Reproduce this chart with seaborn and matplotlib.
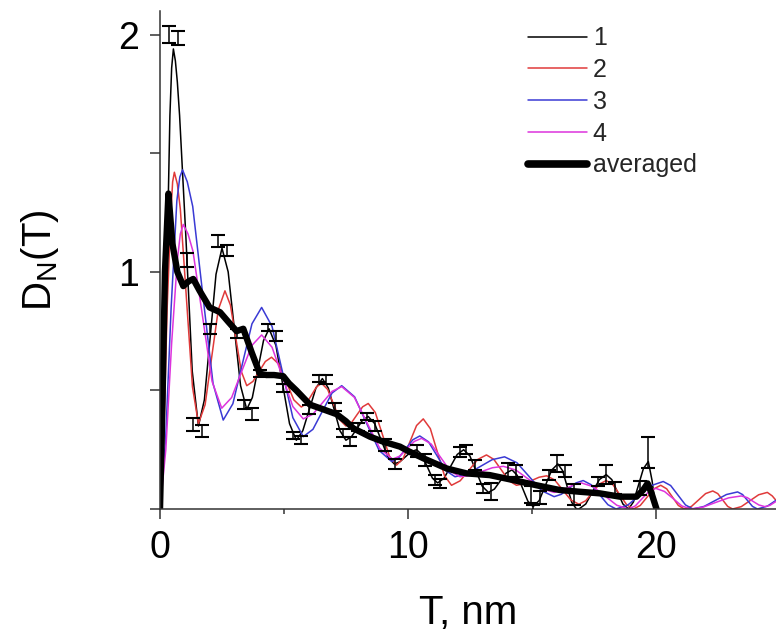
import matplotlib
matplotlib.use("Agg")
import matplotlib.pyplot as plt
import seaborn as sns
import pandas as pd
from matplotlib.ticker import FixedLocator

# ---------------- data ----------------
t1 = [0.0, 0.14, 0.27, 0.40, 0.47, 0.54, 0.62, 0.70, 0.79, 1.045, 1.30, 1.55, 1.79, 2.025, 2.26, 2.5,
      2.75, 3.0, 3.25, 3.5, 3.725, 3.95, 4.175, 4.4, 4.675, 4.95, 5.225, 5.5,
      5.76, 6.025, 6.29, 6.55, 6.79, 7.025, 7.26, 7.5, 7.725, 7.95, 8.175, 8.4,
      8.66, 8.925, 9.19, 9.45, 9.675, 9.9, 10.125, 10.35, 10.56, 10.775, 10.99, 11.2,
      11.46, 11.725, 11.99, 12.25, 12.5, 12.75, 13.0, 13.25, 13.49, 13.725, 13.96, 14.2,
      14.41, 14.625, 14.84, 15.05, 15.3, 15.55, 15.8, 16.05, 16.24, 16.425, 16.61, 16.8,
      16.9, 17.175, 17.45, 17.725, 18.0, 18.225, 18.45, 18.675, 18.9, 19.1, 19.3, 19.5,
      19.7, 19.85, 20.0]
d1 = [0.0, 0.28, 0.97, 1.66, 1.86, 1.94, 1.89, 1.80, 1.66, 1.145, 0.582, 0.35, 0.46, 0.725, 0.99, 1.1,
      1.0, 0.76, 0.52, 0.42, 0.47, 0.59, 0.71, 0.76, 0.69, 0.525, 0.36, 0.29,
      0.33, 0.42, 0.51, 0.55, 0.51, 0.42, 0.33, 0.29, 0.305, 0.34, 0.375, 0.39,
      0.36, 0.29, 0.22, 0.19, 0.199, 0.22, 0.241, 0.25, 0.23, 0.18, 0.13, 0.11,
      0.13, 0.18, 0.23, 0.25, 0.224, 0.16, 0.096, 0.07, 0.084, 0.118, 0.151, 0.165,
      0.142, 0.088, 0.033, 0.01, 0.036, 0.10, 0.164, 0.19, 0.162, 0.095, 0.028, 0.0,
      0.0, 0.021, 0.073, 0.124, 0.145, 0.124, 0.073, 0.021, 0.0, 0.03, 0.10, 0.17,
      0.20, 0.12, 0.0]

t2 = [0.0, 0.15, 0.29, 0.44, 0.51, 0.58, 0.70, 0.82, 1.065, 1.31, 1.55, 1.82, 2.085, 2.35, 2.62,
      2.84, 3.06, 3.28, 3.5, 3.75, 4.0, 4.25, 4.5, 4.8, 5.1, 5.4, 5.7,
      5.905, 6.11, 6.315, 6.52, 6.765, 7.01, 7.255, 7.5, 7.725, 7.95, 8.175, 8.4,
      8.685, 8.97, 9.255, 9.54, 9.81, 10.08, 10.35, 10.62, 10.905, 11.19, 11.475, 11.76,
      12.11, 12.465, 12.82, 13.17, 13.47, 13.775, 14.08, 14.38, 14.685, 14.99, 15.295, 15.6,
      15.925, 16.25, 16.575, 16.9, 17.175, 17.45, 17.725, 18.0, 18.275, 18.55, 18.825, 19.1,
      19.375, 19.65, 19.925, 20.2, 20.44, 20.675, 20.91, 21.15, 21.44, 21.725, 22.01, 22.3,
      22.5, 22.7, 22.9, 23.1, 23.45, 23.8, 24.15, 24.5, 24.7, 24.9]
d2 = [0.0, 0.3, 0.85, 1.25, 1.38, 1.42, 1.37, 1.265, 0.89, 0.515, 0.36, 0.44, 0.64, 0.84, 0.92,
      0.86, 0.72, 0.58, 0.52, 0.538, 0.58, 0.622, 0.64, 0.61, 0.535, 0.46, 0.43,
      0.445, 0.48, 0.515, 0.53, 0.504, 0.44, 0.376, 0.35, 0.364, 0.398, 0.431, 0.445,
      0.407, 0.315, 0.223, 0.185, 0.213, 0.283, 0.352, 0.38, 0.339, 0.24, 0.141, 0.10,
      0.119, 0.164, 0.209, 0.228, 0.209, 0.164, 0.119, 0.10, 0.106, 0.12, 0.134, 0.14,
      0.122, 0.08, 0.038, 0.02, 0.035, 0.07, 0.105, 0.12, 0.102, 0.06, 0.018, 0.0,
      0.015, 0.05, 0.085, 0.10, 0.085, 0.05, 0.015, 0.0, 0.011, 0.038, 0.065, 0.076,
      0.065, 0.038, 0.011, 0.0, 0.010, 0.035, 0.06, 0.07, 0.055, 0.03]

t3 = [0.0, 0.23, 0.45, 0.68, 0.80, 0.91, 1.10, 1.32, 1.73, 2.14, 2.55, 2.94, 3.325, 3.71, 4.1,
      4.52, 4.94, 5.36, 5.78, 6.17, 6.555, 6.94, 7.33, 7.85, 8.34, 8.84, 9.35,
      9.63, 9.915, 10.2, 10.48, 10.835, 11.19, 11.545, 11.9, 12.4, 12.9, 13.4, 13.9,
      14.4, 14.9, 15.4, 15.9, 16.19, 16.485, 16.78, 17.07, 17.4, 17.735, 18.07, 18.4,
      18.875, 19.35, 19.825, 20.3, 20.6, 20.9, 21.2, 21.5, 21.95, 22.4, 22.85, 23.3,
      23.5, 23.7, 23.9, 24.1, 24.5, 24.9]
d3 = [0.0, 0.3, 0.85, 1.3, 1.40, 1.43, 1.38, 1.276, 0.90, 0.529, 0.375, 0.444, 0.613, 0.781, 0.85,
      0.77, 0.578, 0.385, 0.305, 0.336, 0.413, 0.489, 0.52, 0.473, 0.36, 0.247, 0.20,
      0.216, 0.254, 0.292, 0.308, 0.283, 0.222, 0.161, 0.136, 0.148, 0.178, 0.208, 0.22,
      0.195, 0.136, 0.077, 0.052, 0.062, 0.086, 0.11, 0.12, 0.102, 0.06, 0.018, 0.0,
      0.017, 0.058, 0.099, 0.116, 0.099, 0.058, 0.017, 0.0, 0.011, 0.036, 0.061, 0.072,
      0.061, 0.036, 0.011, 0.0, 0.012, 0.04]

t4 = [0.0, 0.235, 0.47, 0.70, 0.82, 0.94, 1.13, 1.33, 1.715, 2.10, 2.49, 2.89, 3.295, 3.70, 4.1,
      4.52, 4.94, 5.36, 5.78, 6.17, 6.555, 6.94, 7.33, 7.84, 8.355, 8.87, 9.38,
      9.67, 9.965, 10.26, 10.55, 10.94, 11.325, 11.71, 12.1, 12.54, 12.975, 13.41, 13.85,
      14.36, 14.875, 15.39, 15.9, 16.175, 16.45, 16.725, 17.0, 17.475, 17.95, 18.425, 18.9,
      19.175, 19.45, 19.725, 20.0, 20.35, 20.7, 21.05, 21.4, 21.91, 22.425, 22.94, 23.45,
      23.69, 23.925, 24.16, 24.4, 24.6, 24.9]
d4 = [0.0, 0.25, 0.7, 1.05, 1.16, 1.2, 1.16, 1.087, 0.813, 0.538, 0.425, 0.47, 0.58, 0.689, 0.734,
      0.682, 0.557, 0.432, 0.38, 0.40, 0.448, 0.496, 0.516, 0.471, 0.363, 0.255, 0.21,
      0.223, 0.254, 0.285, 0.298, 0.274, 0.217, 0.16, 0.136, 0.142, 0.158, 0.174, 0.18,
      0.164, 0.125, 0.086, 0.07, 0.076, 0.09, 0.104, 0.11, 0.094, 0.055, 0.016, 0.0,
      0.013, 0.044, 0.074, 0.087, 0.074, 0.044, 0.013, 0.0, 0.008, 0.028, 0.047, 0.055,
      0.048, 0.032, 0.017, 0.01, 0.015, 0.035]

t_avg = [0.0, 0.1, 0.2, 0.34, 0.5, 0.7, 0.94, 1.15, 1.34, 1.6, 2.0, 2.42, 2.75, 3.09,
         3.36, 3.7, 4.03, 4.3, 4.6, 4.97, 5.2, 5.5, 6.05, 6.59, 7.12, 7.5, 7.8, 8.47,
         9.0, 9.68, 10.0, 10.62, 11.56, 12.37, 13.3, 14.25, 15.19, 16.13, 16.9, 17.74,
         18.55, 19.22, 19.49, 19.67, 19.83, 20.03]
d_avg = [0.0, 0.45, 1.0, 1.33, 1.12, 1.0, 0.94, 0.96, 0.97, 0.92, 0.85, 0.83, 0.79, 0.75,
         0.76, 0.66, 0.57, 0.565, 0.565, 0.56, 0.53, 0.50, 0.44, 0.42, 0.40, 0.37, 0.34, 0.305,
         0.284, 0.263, 0.245, 0.214, 0.171, 0.15, 0.143, 0.122, 0.10, 0.08, 0.073, 0.066,
         0.052, 0.052, 0.08, 0.108, 0.066, 0.0]

t_err = [0.36, 0.71, 1.07, 1.34, 1.68, 2.02, 2.35, 2.69, 3.09, 3.40, 3.70, 4.03, 4.37,
         4.68, 4.97, 5.38, 5.69, 6.02, 6.42, 6.69, 7.06, 7.39, 7.66, 8.00, 8.36, 8.67,
         9.07, 9.48, 10.35, 10.69, 11.09, 11.29, 12.10, 12.34, 12.70, 13.04, 13.37, 14.04,
         14.38, 14.98, 15.05, 15.32, 15.70, 16.00, 16.33, 16.70, 17.67, 18.01, 18.35, 19.35,
         19.69]
d_err = [2.00, 1.985, 1.05, 0.355, 0.33, 0.76, 1.13, 1.09, 0.74, 0.44, 0.40, 0.57, 0.765,
         0.73, 0.51, 0.31, 0.29, 0.42, 0.55, 0.545, 0.43, 0.32, 0.285, 0.345, 0.39, 0.35,
         0.27, 0.19, 0.245, 0.205, 0.122, 0.108, 0.241, 0.25, 0.186, 0.087, 0.073, 0.164,
         0.16, 0.06, 0.0, 0.05, 0.143, 0.193, 0.16, 0.06, 0.115, 0.147, 0.09, 0.09,
         0.24]
e_err = [0.035, 0.03, 0.03, 0.028, 0.025, 0.021, 0.025, 0.025, 0.02, 0.02, 0.025, 0.015, 0.015,
         0.02, 0.018, 0.015, 0.018, 0.02, 0.015, 0.018, 0.015, 0.018, 0.02, 0.018, 0.015, 0.02,
         0.025, 0.02, 0.025, 0.025, 0.02, 0.02, 0.02, 0.02, 0.02, 0.02, 0.035, 0.028,
         0.025, 0.035, 0.015, 0.028, 0.02, 0.035, 0.025, 0.045, 0.02, 0.04, 0.025, 0.03,
         0.065]

series_labels = ["1", "2", "3", "4", "averaged"]
series_colors = ["#000000", "#e03a3a", "#3a3ad4", "#dd33dd", "#000000"]
series_widths = [1.1, 1.1, 1.1, 1.1, 4.6]

x_ticks = [0, 10, 20]
y_ticks = [0, 1, 2]
y_ticklabels = ["", "1", "2"]

# ---------------- plot ----------------
sns.set_theme(style="ticks")
plt.rcParams["font.family"] = ["Liberation Sans", "DejaVu Sans"]
plt.rcParams["mathtext.default"] = "regular"

fig = plt.figure(figsize=(7.76, 6.32), dpi=100)
ax = fig.add_axes([160 / 776, 123 / 632, 616 / 776, 498 / 632])

all_t = [t1, t2, t3, t4, t_avg]
all_d = [d1, d2, d3, d4, d_avg]
for t, d, lab, col, lw in zip(all_t, all_d, series_labels, series_colors, series_widths):
    df = pd.DataFrame({"T": t, "D": d})
    sns.lineplot(data=df, x="T", y="D", ax=ax, color=col, linewidth=lw,
                 estimator=None, sort=False, label=lab)

ax.errorbar(t_err, d_err, yerr=e_err, fmt="none", ecolor="black",
            elinewidth=1.1, capsize=5.0, capthick=1.5, zorder=5)

ax.set_xlim(0, 24.85)
ax.set_ylim(0, 2.1)

ax.xaxis.set_major_locator(FixedLocator(x_ticks))
ax.xaxis.set_minor_locator(FixedLocator([5, 15]))
ax.yaxis.set_major_locator(FixedLocator(y_ticks))
ax.set_yticklabels(y_ticklabels)
ax.yaxis.set_minor_locator(FixedLocator([0.5, 1.5]))

sns.despine(ax=ax)
for s in ["left", "bottom"]:
    ax.spines[s].set_color("#333333")
    ax.spines[s].set_linewidth(1.1)

ax.tick_params(axis="both", which="major", direction="out", length=7, width=1.1,
               color="#333333", labelsize=27, pad=8, labelcolor="black")
ax.tick_params(axis="x", which="minor", direction="out", length=3.5, width=1.1, color="#333333")
ax.tick_params(axis="y", which="minor", direction="out", length=7, width=1.1, color="#333333")

ax.set_xlabel("T, nm", fontsize=29, color="black")
ax.set_ylabel("D$_N$(T)", fontsize=29, color="black")
ax.xaxis.set_label_coords(0.5, -0.17)
ax.yaxis.set_label_coords(-0.16, 0.5)

handles, labels = ax.get_legend_handles_labels()
leg = ax.legend(handles[:5], labels[:5], loc="upper left", bbox_to_anchor=(0.597, 0.969),
                frameon=False, fontsize=18, handlelength=2.36, handletextpad=0.24,
                labelspacing=0.31, borderpad=0, borderaxespad=0)
leg.get_lines()[4].set_linewidth(5.5)

fig.savefig("out.png", dpi=100)
